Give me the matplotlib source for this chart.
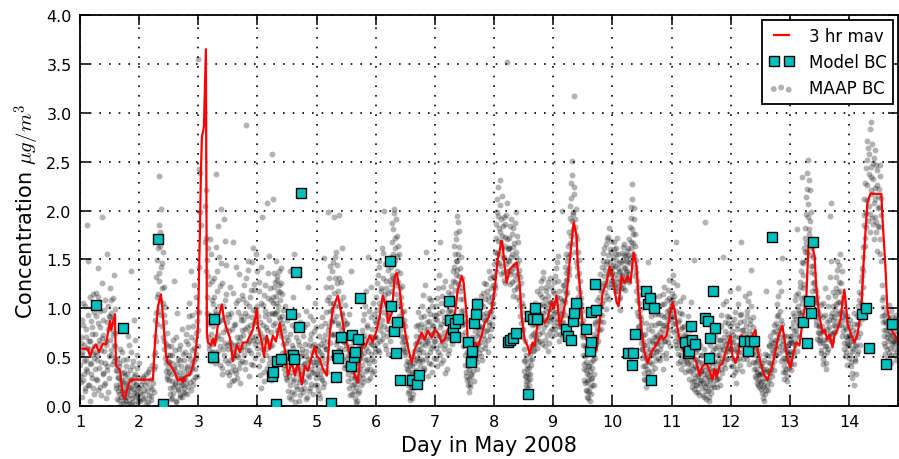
import numpy as np
import matplotlib.pyplot as plt

nan = float("nan")

# 3 hr running mean of the MAAP record: (day in May, ug/m3)
mav_points = [
    (1.000, 0.59), (1.135, 0.58), (1.169, 0.51), (1.220, 0.59), (1.270, 0.63), (1.321, 0.55),
    (1.389, 0.64), (1.439, 0.63), (1.507, 0.87), (1.524, 0.78), (1.557, 0.85), (1.591, 0.94),
    (1.608, 0.41), (1.676, 0.37), (1.693, 0.27), (1.726, 0.10), (1.760, 0.08), (1.794, 0.17),
    (1.845, 0.26), (1.878, 0.27), (2.233, 0.27), (2.267, 0.65), (2.318, 1.02), (2.368, 1.14),
    (2.385, 1.05), (2.419, 0.78), (2.453, 0.51), (2.486, 0.44), (2.537, 0.41), (2.605, 0.34),
    (2.655, 0.26), (2.706, 0.28), (2.740, 0.24), (2.791, 0.31), (2.858, 0.32), (2.909, 0.41),
    (2.943, 0.51), (2.959, 0.58), (2.993, 0.78), (3.027, 1.78), (3.044, 2.39), (3.061, 2.76),
    (3.078, 2.80), (3.095, 2.86), (3.128, 3.65), (3.145, 0.75), (3.162, 0.65), (3.213, 0.62),
    (3.247, 0.69), (3.280, 0.62), (3.314, 0.75), (3.348, 0.92), (3.399, 1.04), (3.432, 0.89),
    (3.483, 0.78), (3.534, 0.70), (3.584, 0.46), (3.652, 0.62), (3.703, 0.55), (3.753, 0.65),
    (3.821, 0.65), (3.872, 0.72), (3.922, 0.78), (3.990, 0.99), (4.007, 0.82), (4.074, 0.65),
    (4.108, 0.51), (4.159, 0.72), (4.209, 0.58), (4.260, 0.72), (4.311, 0.66), (4.378, 0.85),
    (4.412, 0.72), (4.463, 0.58), (4.514, 0.31), (4.581, 0.45), (4.632, 0.31), (4.682, 0.45),
    (4.750, 0.22), (4.801, 0.41), (4.851, 0.36), (4.919, 0.51), (4.970, 0.61), (5.003, 0.51),
    (5.054, 0.48), (5.105, 0.38), (5.172, 0.31), (5.223, 0.75), (5.274, 0.99), (5.358, 1.13),
    (5.426, 0.92), (5.476, 0.72), (5.527, 0.61), (5.595, 0.45), (5.645, 0.31), (5.696, 0.24),
    (5.730, 0.45), (5.780, 0.65), (5.831, 0.62), (5.899, 0.72), (5.949, 0.65), (6.017, 0.78),
    (6.068, 0.92), (6.118, 1.13), (6.186, 0.99), (6.203, 0.85), (6.270, 0.95), (6.321, 1.33),
    (6.355, 1.36), (6.405, 1.19), (6.439, 0.99), (6.490, 0.78), (6.541, 0.61), (6.608, 0.44),
    (6.659, 0.58), (6.709, 0.65), (6.777, 0.75), (6.828, 0.68), (6.878, 0.77), (6.946, 0.70),
    (6.997, 0.78), (7.047, 0.75), (7.115, 0.65), (7.166, 0.68), (7.216, 0.78), (7.284, 0.85),
    (7.334, 0.92), (7.385, 1.19), (7.453, 1.33), (7.486, 1.26), (7.537, 0.92), (7.554, 0.65),
    (7.622, 0.58), (7.672, 0.65), (7.723, 0.61), (7.791, 0.72), (7.841, 0.85), (7.892, 0.89),
    (7.959, 0.99), (8.010, 1.19), (8.061, 1.50), (8.128, 1.69), (8.145, 1.64), (8.179, 1.43),
    (8.213, 1.26), (8.264, 1.40), (8.314, 1.43), (8.382, 1.47), (8.432, 1.25), (8.466, 0.92),
    (8.517, 0.68), (8.568, 0.61), (8.601, 0.53), (8.652, 0.65), (8.686, 0.62), (8.736, 0.85),
    (8.804, 0.92), (8.855, 0.85), (8.905, 0.90), (8.973, 1.06), (9.007, 1.00), (9.057, 1.13),
    (9.108, 0.82), (9.159, 0.92), (9.226, 1.13), (9.277, 1.47), (9.311, 1.67), (9.345, 1.88),
    (9.395, 1.74), (9.412, 1.47), (9.463, 1.13), (9.497, 0.78), (9.564, 0.68), (9.615, 0.58),
    (9.666, 0.51), (9.733, 0.58), (9.784, 0.85), (9.834, 1.16), (9.902, 1.26), (9.953, 1.43),
    (10.003, 1.33), (10.071, 1.06), (10.105, 1.02), (10.155, 1.33), (10.206, 1.26), (10.257, 1.33),
    (10.307, 1.26), (10.358, 1.57), (10.409, 1.43), (10.443, 1.09), (10.493, 0.78), (10.544, 0.55),
    (10.595, 0.44), (10.662, 0.55), (10.713, 0.60), (10.764, 0.65), (10.831, 0.72), (10.865, 0.68),
    (10.916, 0.72), (10.966, 0.92), (11.017, 1.06), (11.051, 0.99), (11.084, 0.85), (11.135, 0.68),
    (11.186, 0.58), (11.253, 0.68), (11.304, 0.65), (11.355, 0.55), (11.422, 0.44), (11.473, 0.31),
    (11.524, 0.41), (11.591, 0.44), (11.642, 0.36), (11.693, 0.27), (11.726, 0.38), (11.760, 0.29),
    (11.811, 0.41), (11.861, 0.44), (11.929, 0.58), (11.997, 0.72), (12.030, 0.51), (12.081, 0.44),
    (12.115, 0.51), (12.182, 0.73), (12.216, 0.70), (12.267, 0.58), (12.318, 0.65), (12.368, 0.72),
    (12.419, 0.78), (12.453, 0.58), (12.520, 0.41), (12.571, 0.31), (12.622, 0.27), (12.689, 0.38),
    (12.740, 0.51), (12.807, 0.72), (12.875, 0.82), (12.909, 0.68), (12.959, 0.48), (13.010, 0.39),
    (13.061, 0.55), (13.111, 0.65), (13.162, 0.62), (13.213, 0.85), (13.280, 1.13), (13.314, 1.64),
    (13.365, 1.67), (13.416, 1.54), (13.449, 1.19), (13.500, 0.92), (13.551, 0.75), (13.584, 0.78),
    (13.635, 0.68), (13.669, 0.73), (13.720, 0.60), (13.753, 0.72), (13.804, 0.78), (13.855, 0.88),
    (13.889, 1.06), (13.922, 1.19), (13.956, 0.99), (13.973, 0.85), (14.041, 0.72), (14.091, 0.65),
    (14.142, 0.73), (14.209, 0.99), (14.243, 1.43), (14.277, 1.77), (14.311, 2.08), (14.361, 2.17),
    (14.547, 2.17), (14.564, 1.94), (14.615, 1.43), (14.649, 0.99), (14.716, 0.78), (14.767, 0.73),
    (14.834, 0.65),
]

# model BC: (day in May, ug/m3)
model_points = [
    (1.275, 1.03), (1.726, 0.80), (2.318, 1.705), (2.41, 0.02), (3.247, 0.50), (3.264, 0.89),
    (4.238, 0.31), (4.265, 0.35), (4.305, 0.02), (4.333, 0.46), (4.395, 0.485), (4.575, 0.945),
    (4.60, 0.52), (4.62, 0.485), (4.65, 1.375), (4.70, 0.81), (4.733, 2.18), (5.24, 0.035),
    (5.32, 0.30), (5.347, 0.52), (5.363, 0.49), (5.404, 0.71), (5.573, 0.41), (5.606, 0.73),
    (5.633, 0.50), (5.657, 0.555), (5.70, 0.69), (5.73, 1.10), (6.236, 1.48), (6.265, 1.02),
    (6.30, 0.77), (6.338, 0.545), (6.36, 0.86), (6.405, 0.265), (6.62, 0.265), (6.705, 0.23),
    (6.726, 0.32), (7.233, 1.075), (7.25, 0.88), (7.306, 0.785), (7.334, 0.85), (7.334, 0.705),
    (7.39, 0.89), (7.56, 0.65), (7.605, 0.455), (7.633, 0.565), (7.655, 0.85), (7.70, 0.94),
    (7.718, 1.04), (8.235, 0.65), (8.264, 0.68), (8.32, 0.70), (8.377, 0.75), (8.573, 0.12),
    (8.60, 0.92), (8.66, 0.89), (8.70, 1.0), (8.73, 0.895), (9.22, 0.785), (9.25, 0.72),
    (9.305, 0.68), (9.33, 0.87), (9.35, 0.955), (9.39, 1.05), (9.56, 0.785), (9.615, 0.565),
    (9.63, 0.655), (9.643, 0.96), (9.70, 1.25), (9.728, 0.98), (10.26, 0.545), (10.33, 0.42),
    (10.35, 0.54), (10.39, 0.74), (10.56, 1.18), (10.61, 1.04), (10.63, 1.10), (10.656, 0.27),
    (10.70, 1.0), (11.22, 0.655), (11.275, 0.545), (11.30, 0.565), (11.33, 0.82), (11.35, 0.68),
    (11.40, 0.63), (11.56, 0.90), (11.61, 0.87), (11.625, 0.495), (11.65, 0.70), (11.70, 1.18),
    (11.73, 0.80), (12.233, 0.665), (12.29, 0.565), (12.318, 0.665), (12.39, 0.66), (12.70, 1.73),
    (13.22, 0.86), (13.29, 0.64), (13.32, 1.075), (13.35, 0.95), (13.387, 1.68), (14.22, 0.94),
    (14.29, 1.0), (14.345, 0.59), (14.63, 0.43), (14.73, 0.84),
]

# MAAP BC (ug/m3), one value every 15 minutes from 1 May 00:00 ...
maap_start = 1.0
maap_step = 1.0 / 96
maap_bc = [
    .42,.71,.25,.88,.55,1.05,.33,.62,.18,.79,.47,1.85,.36,.93,.58,.21,.67,1.12,.44,.29,.81,.53,.12,.96,
    .74,.38,1.16,.52,.27,.85,1.41,.63,.19,.97,.45,.70,1.93,.33,.88,.56,1.08,.24,.66,1.55,.41,.79,.14,.92,
    .68,1.21,.95,.52,.84,1.10,.73,.46,.99,.61,.37,.22,.48,.15,.30,.06,.41,.19,.09,.27,.55,.03,.17,.35,
    .12,.31,.05,.22,.48,.09,.16,.62,.27,.03,1.38,.19,.41,.08,.25,.88,.14,.33,.02,.21,.52,.11,.29,.07,
    .18,nan,.05,nan,.26,.12,nan,.31,nan,.08,.22,nan,.15,nan,.35,.04,nan,.19,nan,.28,.10,nan,.24,nan,
    .38,.72,.55,.95,1.32,.84,1.62,1.15,2.35,1.28,1.78,.93,2.02,1.46,1.05,.71,1.22,.58,.86,.44,.63,.31,.52,.39,
    .27,.45,.12,.61,.33,.08,.52,.19,1.28,.38,.24,.71,.05,.43,.29,.16,.58,.35,.09,.47,.22,.79,.31,.14,
    .36,.18,.55,.29,.74,.41,.12,.63,.33,.92,.25,.48,1.38,.39,.57,.21,.82,.46,.68,.30,1.12,.53,.87,.61,
    3.55,1.42,2.38,4.6,1.85,5.2,4.3,4.9,6.1,4.8,5.5,2.05,1.72,1.38,.95,1.62,.71,1.25,.58,.88,1.55,.46,1.08,.67,
    .82,.55,1.31,.68,2.37,.94,.47,1.18,.73,1.52,1.02,.61,2.02,.88,.39,1.26,.76,1.91,.52,1.08,.64,1.44,.35,.86,
    .58,.32,.91,.47,1.22,.63,.26,.79,.41,1.68,.55,.84,.37,1.05,.62,.29,.96,.50,1.35,.71,.44,.88,.60,1.14,
    .73,1.09,.52,.95,.38,1.31,2.87,.81,.64,1.48,.57,1.02,.76,.43,1.19,.91,1.62,.68,.85,1.25,.49,.97,.72,1.38,
    .66,.92,.41,1.27,.75,.18,1.05,.58,1.93,.83,.35,1.14,.69,.97,.52,2.08,.78,1.36,.44,.88,.61,1.21,.27,.95,
    2.58,1.12,2.12,.94,1.27,.85,1.05,1.33,.97,1.18,.76,1.24,.89,1.08,1.41,.92,1.15,.63,.81,.38,.55,1.02,.29,.71,
    .42,.15,.68,.31,1.38,.52,.07,.44,.83,.26,.59,.12,1.56,.37,.71,.20,.48,.93,.33,.05,.62,.28,.17,.54,
    .36,.58,.14,.81,.43,.25,.97,.51,.09,.39,1.22,.62,.30,.46,.18,.74,.55,.35,.88,.42,.63,.21,1.05,.48,
    .45,.22,.61,.38,.12,.55,.33,.82,.27,.49,.68,.19,1.51,.44,.73,.58,.96,.35,1.98,.78,1.12,.64,1.05,.87,
    1.22,.86,1.47,1.05,1.93,.74,1.31,.92,1.58,.67,1.18,.83,1.02,1.95,.59,1.27,.78,.95,.48,1.12,.65,.88,.42,.71,
    .62,.41,.85,.33,.57,.18,.72,.29,1.38,.45,.12,.36,.23,.51,.08,.31,.19,.44,.05,.27,.62,.15,.38,.49,
    .52,.33,.78,.61,.25,.94,.47,.69,1.18,.38,.83,.56,1.52,.44,.72,.29,.91,.63,.48,1.05,.71,.36,.87,.59,
    .85,1.12,.64,1.34,.91,.55,1.48,.78,1.21,1.02,.69,1.57,.96,1.99,.82,1.15,.58,1.28,.93,.72,1.39,.87,1.06,.66,
    1.25,1.52,1.68,1.34,1.81,1.46,1.97,1.29,1.62,1.15,1.74,1.38,1.08,1.55,.92,1.21,.78,1.12,.65,.96,.71,.88,.57,.82,
    .55,.71,.38,.46,.22,.31,.15,.42,.09,.27,.35,.18,.51,.12,.44,.24,.63,.37,.82,.49,.58,.96,.67,.41,
    .72,.48,.91,.63,1.14,.55,.81,.37,.69,1.58,.76,.52,.98,.64,.44,.87,.71,1.08,.59,.83,.35,.75,.93,.66,
    .78,1.02,.59,.88,.41,1.21,.73,.95,.52,1.68,.84,.66,1.13,.47,.91,.76,1.28,.62,.85,.38,1.05,.71,.97,.57,
    .89,.72,1.15,.96,.63,1.28,1.04,1.42,1.19,1.56,1.34,1.77,1.48,1.88,1.25,1.63,1.09,1.41,.86,1.22,.73,.98,.61,.84,
    .65,.42,.87,.31,.55,.22,.46,.28,.37,.19,.52,.33,.71,.44,.93,.58,.26,.77,.49,1.08,.62,.38,.81,.54,
    .74,.92,.58,1.13,.81,.47,1.02,.69,1.26,.88,.63,.95,.78,1.18,.55,1.07,.86,.72,1.31,.97,1.12,.84,1.24,1.05,
    1.32,1.58,1.21,1.86,1.47,2.12,1.69,1.94,1.55,2.31,1.78,1.43,1.91,1.62,1.37,1.84,1.52,1.26,1.73,1.45,1.95,3.52,1.61,1.38,
    1.48,1.72,1.25,1.91,1.38,1.56,1.13,1.82,1.44,1.67,1.29,1.98,1.52,1.21,1.74,1.35,1.08,1.49,.92,1.26,.78,1.05,.71,.88,
    .58,.36,.47,.22,.31,.18,.42,.27,.15,.39,.53,.33,.72,.48,.91,.62,.84,.57,1.05,.76,.69,1.18,.88,.65,
    .92,.74,1.15,.86,1.28,.63,1.04,.95,1.37,.81,1.09,.68,.97,1.22,.88,.56,1.13,.99,.77,1.31,.91,1.06,.72,1.18,
    1.05,.83,1.27,.96,1.41,.74,1.12,1.53,.89,1.18,.67,1.02,.81,.94,.72,1.99,.86,1.08,1.24,.93,1.36,1.15,1.48,1.29,
    1.52,1.78,1.34,2.05,1.67,2.28,1.89,2.51,1.96,2.17,3.17,1.83,1.58,2.02,1.42,1.71,1.21,1.49,1.05,1.28,.92,1.11,.84,.97,
    .71,.52,.38,.61,.24,.45,.15,.33,.08,.27,.41,.19,.36,.12,.53,.29,.47,.68,.22,.84,.57,.95,.63,1.08,
    .88,.67,1.12,.94,1.35,.79,1.21,1.04,1.48,.86,1.33,1.62,1.17,1.45,.99,1.71,1.28,1.54,1.09,1.82,1.39,1.25,1.58,1.41,
    1.36,1.52,1.24,1.61,1.43,1.18,1.55,1.31,1.72,1.27,1.09,1.46,.98,1.38,1.21,1.57,1.34,1.49,1.26,1.66,1.41,1.19,1.53,1.32,
    1.29,1.47,1.62,1.35,1.83,1.51,2.04,1.68,2.27,1.76,1.55,1.91,1.42,1.64,1.18,1.37,.96,1.22,.81,1.05,.73,.92,.64,.85,
    .58,.41,.73,.34,.62,.27,.49,.85,.38,.56,1.47,.31,.68,.45,.92,.52,.77,.36,.64,1.12,.58,.83,.47,.71,
    .73,.56,.94,.68,1.13,.47,.85,.62,1.04,.79,.38,.91,1.22,.66,.83,.54,.97,1.08,.72,.87,1.29,.95,.61,1.02,
    .98,1.16,.84,1.27,.92,.67,1.05,.78,1.68,.59,.86,.44,.73,.95,.52,.67,.38,.81,.61,1.12,.49,.72,.35,.64,
    .62,.45,.83,.37,.71,.28,.55,1.06,.42,.19,.64,.33,1.49,.26,.48,.14,.39,.58,.22,.31,.11,.45,.27,.52,
    .36,.18,.52,.24,.09,.41,.29,1.88,.15,.33,.46,.21,.05,.38,.62,.27,.13,1.21,.44,.31,.57,.19,.72,.35,
    .43,.28,.61,.37,.79,.52,.21,.68,.45,.93,.34,1.52,.58,.71,.39,.86,.63,1.07,.48,.74,.56,.91,.67,.82,
    .58,.41,.77,.32,.65,.89,.47,.71,.24,.56,.83,.38,1.04,.62,.49,.93,1.68,.55,.78,.36,.69,.87,.52,.74,
    .63,.82,.48,.97,.71,.55,1.16,.66,.88,1.39,.74,.59,.91,.45,.67,.31,.52,.38,.24,.46,.33,.57,.19,.42,
    .32,.17,.44,.26,.08,.38,.21,.53,.12,.35,1.18,.28,.45,.16,.62,.34,.51,.23,.67,.42,.76,.55,.37,.61,
    .68,.85,.52,1.04,.74,.93,.61,1.27,.79,.46,.88,1.51,.57,.35,.72,.28,.49,.61,.38,.55,.26,.47,.64,.53,
    .56,.72,.43,.81,.64,.95,.51,.77,1.08,.62,.89,1.81,.73,.98,1.16,.84,1.27,.93,1.38,1.05,2.34,1.21,1.46,1.12,
    1.58,1.82,2.14,1.67,2.38,1.93,2.52,1.76,2.21,1.54,1.98,1.43,1.71,1.26,1.52,1.09,1.35,.94,1.18,.83,1.05,.76,.97,.68,
    .82,.64,1.03,.57,.76,.43,.91,.68,.52,1.21,.61,.38,.79,.55,1.12,.72,.88,1.94,.66,2.08,.95,.74,1.17,.83,
    .91,1.13,.76,1.32,.94,1.48,1.06,1.27,.83,1.55,1.18,.97,1.38,.72,1.05,.88,.64,.93,.51,.79,.68,.42,.85,.61,
    .73,.52,.88,.41,.67,.29,.78,.58,.95,.46,.71,.33,.62,.84,1.02,.56,.91,1.17,.75,1.28,1.05,1.41,1.22,1.63,
    1.85,2.12,1.64,2.43,1.97,2.71,2.26,3.38,2.05,2.58,1.78,2.34,2.91,2.17,1.92,2.49,2.08,1.71,2.62,2.23,1.88,2.41,1.59,2.15,
    2.22,1.83,2.47,1.56,1.95,1.24,.92,1.12,.78,.64,.87,.53,.96,.71,.48,.82,.67,1.03,.59,.76,.44,.91,.63,.81,
    .72,.58,.89,.66,.47,.93,.74,.61,
]

# ... and the samples taken 7.5 minutes after each of those
maap_bc_half = [
    .31,.64,.09,.52,.83,.27,.46,1.02,.15,.71,.38,.59,.22,1.48,.66,.05,.43,.87,.33,.74,.18,1.15,.49,.61,
    .55,.92,.28,.47,1.12,.16,.68,.39,.81,.11,.57,1.26,.34,.73,.21,.98,.44,.62,.08,.86,.37,1.02,.51,.29,
    .91,.57,1.08,.78,.43,.89,1.34,.62,.75,.49,.18,.36,.07,.29,.44,.12,.23,.58,.02,.34,.15,.47,.26,.09,
    .24,.06,.41,.14,.33,.72,.02,.19,.37,.11,.28,.55,.04,.46,.17,.31,.09,.68,.23,.13,.39,.05,.18,.44,
    nan,.13,nan,.21,nan,.07,.29,nan,.16,nan,.33,.02,nan,.25,nan,.11,.38,nan,.06,nan,.17,.42,nan,.14,
    .52,.41,.88,.67,1.12,1.49,.97,1.85,1.36,1.64,1.07,1.42,1.21,.82,1.58,.93,.67,.49,1.01,.36,.75,.28,.61,.46,
    .35,.18,.52,.07,.44,.26,.68,.13,.39,.57,.21,.04,.33,.95,.17,.48,.25,.11,.62,.29,.41,.09,.53,.22,
    .28,.47,.13,.66,.24,.39,.81,.19,.52,1.05,.35,.71,.16,.43,.93,.27,.59,1.24,.38,.75,.49,.96,.31,.78,
    2.42,.96,1.98,5.1,4.2,4.4,5.8,4.5,4.7,5.3,6.3,1.68,2.21,1.12,1.49,.84,1.33,.62,1.71,.93,.74,1.28,.55,1.04,
    .63,1.12,.44,.97,1.63,.71,1.38,.56,1.84,.87,.42,1.23,.69,1.46,.33,1.02,.58,.91,1.69,.47,.79,1.15,.62,.94,
    .44,.77,.21,.65,.95,.36,.58,1.16,.49,.27,.83,.62,1.42,.34,.71,.52,1.08,.39,.66,.24,.92,.57,.78,.46,
    .88,.61,1.24,.45,.79,1.05,.57,.92,1.39,.66,.31,1.12,.83,.54,1.47,.71,.98,.42,1.19,.63,.87,1.56,.59,1.02,
    .79,.53,1.18,.32,.86,.64,1.42,.47,.71,1.03,.26,.92,1.24,.58,.81,.39,1.11,.66,.94,1.53,.49,.76,1.08,.62,
    1.05,.83,1.36,1.22,.95,1.48,1.13,.78,1.29,1.02,1.38,.91,1.17,.72,1.26,.85,.54,.98,.42,.77,.33,.64,.48,.88,
    .27,.56,.09,.49,.74,.21,.35,.62,.14,1.12,.45,.28,.81,.04,.53,.39,.17,.66,.47,.25,.86,.11,.41,.33,
    .51,.27,.72,.18,.63,.44,.07,.56,.84,.32,.48,.15,.69,.92,.38,.23,.61,.45,.12,.77,.34,.58,.81,.29,
    .33,.57,.16,.72,.44,.08,.63,.29,.52,.91,.37,.61,.24,.85,.58,1.22,.67,1.08,.49,1.31,.82,.97,1.43,.74,
    .97,1.38,.73,1.16,.88,1.52,1.02,.63,1.26,1.44,.85,.57,1.31,.69,1.07,.52,.93,1.62,.67,.81,.39,1.03,.58,.84,
    .49,.73,.26,.52,.94,.38,.11,.45,.61,.22,.35,.68,.15,.42,.29,.03,.52,.26,.37,.13,.48,.31,.56,.21,
    .61,.42,.88,.29,.73,.54,1.02,.36,.59,.81,.48,.27,.97,.65,.38,1.22,.53,.79,.34,.62,.94,.46,.71,.55,
    .71,.98,1.26,.57,1.05,1.42,.83,.66,1.18,1.62,.88,1.31,.74,1.09,1.45,.62,1.21,.79,1.04,.53,1.16,.95,1.29,.77,
    1.42,1.18,1.87,1.56,1.31,2.02,1.49,1.72,1.24,1.91,1.53,1.27,1.64,1.02,1.36,.88,1.04,.72,1.23,.59,.84,.66,.97,.52,
    .42,.63,.24,.37,.13,.28,.45,.06,.33,.19,.41,.08,.29,.56,.21,.35,.47,.72,.31,.65,.83,.46,.54,.78,
    .58,.84,.46,1.02,.71,.39,.92,.62,1.24,.48,.86,.67,.31,.79,1.11,.55,.94,.43,.74,1.02,.61,.82,.49,.89,
    .66,.93,.48,1.11,.72,.55,1.34,.81,.62,1.05,.44,.97,.71,1.22,.58,.87,.34,1.03,.69,.92,.53,1.17,.76,.85,
    .98,.79,1.23,.68,1.11,1.38,.91,1.64,1.27,1.48,1.71,1.39,1.94,1.56,1.33,1.79,1.18,1.52,.97,1.31,.83,1.09,.68,.93,
    .52,.76,.35,.63,.27,.41,.14,.52,.23,.45,.31,.62,.47,.85,.36,.67,.49,.94,.58,.72,.45,.98,.63,.79,
    .82,.65,1.04,.51,.94,.73,1.16,.88,.59,1.09,.77,1.25,.92,.68,1.13,.83,1.38,.96,.79,1.21,1.04,.91,1.33,1.15,
    1.45,1.24,1.72,1.38,1.98,1.57,2.24,1.82,1.46,2.06,1.68,1.35,2.15,1.74,1.51,1.93,1.29,1.64,1.86,1.38,1.71,2.08,1.49,1.62,
    1.62,1.35,1.84,1.52,1.27,1.76,1.41,1.63,1.19,1.87,1.34,1.58,1.12,1.45,1.68,1.23,1.39,1.02,1.32,.85,1.14,.96,.79,1.02,
    .46,.67,.31,.52,.26,.38,.12,.33,.21,.47,.28,.61,.42,.83,.56,.74,.95,.63,.88,.71,1.02,.59,.81,.97,
    1.03,.85,.67,1.21,.93,1.12,.76,1.31,.89,1.02,.61,1.18,.84,1.04,.73,1.27,.92,.64,1.06,.87,1.22,.79,.98,.89,
    .94,1.16,.79,1.33,1.05,.86,1.47,.97,1.28,.82,1.11,.74,.92,1.07,.85,1.24,.97,1.19,1.42,1.06,1.29,1.55,1.17,1.38,
    1.64,1.41,1.92,1.55,2.13,1.74,2.36,1.98,1.81,2.24,1.66,1.91,1.47,1.75,1.33,1.58,1.12,1.36,.96,1.17,.85,1.04,.73,.88,
    .62,.43,.27,.51,.16,.37,.09,.25,.41,.14,.32,.05,.28,.45,.21,.39,.58,.33,.74,.49,.86,.71,.97,.79,
    .96,.78,1.25,1.03,.87,1.18,1.42,.93,1.26,1.57,1.08,1.39,1.24,1.66,1.13,1.48,1.35,1.73,1.22,1.61,1.47,1.34,1.69,1.29,
    1.44,1.27,1.68,1.35,1.22,1.49,1.62,1.18,1.41,1.56,1.23,1.37,1.12,1.28,1.47,1.33,1.63,1.21,1.42,1.54,1.29,1.48,1.37,1.59,
    1.38,1.54,1.27,1.71,1.46,1.92,1.62,2.12,1.81,1.67,2.03,1.53,1.76,1.33,1.49,1.08,1.28,.92,1.14,.82,.98,.71,.89,.58,
    .49,.66,.28,.53,.41,.74,.19,.45,.62,.35,.79,.51,.27,.58,.83,.43,.66,1.02,.52,.71,.39,.94,.63,.55,
    .64,.85,.49,1.02,.76,.58,.93,.71,.52,1.15,.83,.66,1.04,.75,.49,.92,.81,1.19,.65,.98,1.11,.78,1.06,.89,
    1.09,.91,1.34,.76,1.13,.85,.62,.97,1.24,.71,.53,.88,.65,1.07,.46,.79,.58,.94,.43,.69,.82,.56,.74,.47,
    .71,.54,.92,.43,.62,.36,.78,.47,.25,.59,.38,.83,.17,.41,.29,.55,.21,.47,.33,.14,.39,.24,.62,.36,
    .27,.44,.11,.33,.58,.19,.37,.07,.24,.49,.15,.31,.42,.09,.28,.53,.18,.36,.81,.23,.46,.38,.59,.27,
    .35,.52,.19,.46,.68,.29,.57,.82,.38,.61,.49,1.04,.43,.66,.54,.77,.48,.92,.59,.85,.63,.71,1.18,.58,
    .66,.49,.85,.41,.73,.58,.96,.35,.62,.79,.47,1.21,.55,.71,.86,.42,.67,.94,.61,.48,.78,.63,1.13,.57,
    .71,.55,.92,.62,1.07,.77,.43,.84,.69,1.02,.53,.81,.62,.38,.56,.44,.29,.61,.35,.21,.48,.27,.52,.33,
    .25,.41,.13,.34,.19,.47,.05,.29,.38,.16,.52,.22,.36,.61,.27,.44,.72,.38,.57,.31,.64,.46,.83,.52,
    .77,.59,.92,.68,1.13,.81,.54,.97,.71,1.18,.63,.84,.49,.67,.41,.58,.35,.72,.46,.31,.62,.54,.39,.68,
    .48,.65,.37,.72,.55,.86,.43,.92,.67,.78,1.14,.56,.83,1.02,.71,.95,1.22,.82,1.11,1.47,.96,1.34,1.62,1.25,
    1.72,1.49,1.96,2.22,1.58,2.07,1.81,2.31,1.65,1.89,1.37,1.62,1.18,1.43,1.27,.98,1.21,1.06,.87,1.12,.69,.91,.82,.75,
    .71,.93,.54,.82,.65,1.05,.48,.77,.61,.93,.44,.86,.69,1.02,.58,.81,1.32,.75,.92,1.48,.67,.88,1.02,.76,
    .99,.82,1.21,1.04,1.39,.87,1.17,.95,1.44,1.06,.83,1.26,.91,1.12,.77,.96,.58,.81,.72,.55,.92,.63,.71,.49,
    .62,.81,.45,.73,.34,.56,.67,.22,.84,.61,.48,.76,.53,.92,.71,.84,1.08,.62,.97,1.15,.89,1.33,1.52,1.38,
    1.95,1.72,2.28,1.83,2.52,2.11,1.89,2.64,2.37,1.96,2.83,2.45,2.21,2.68,1.86,2.32,2.54,1.93,2.12,2.47,1.78,2.26,2.03,1.84,
    2.04,2.35,1.71,2.13,1.48,1.08,.86,1.01,.72,.93,.61,.78,.85,.58,.91,.74,.54,.88,.69,.97,.52,.73,.86,.67,
    .81,.64,.52,.78,.69,.55,.83,.70,
]

plt.rcParams['mathtext.fontset'] = 'cm'

mav_day, mav_value = np.array(mav_points).T
model_day, model_value = np.array(model_points).T
maap_day = maap_start + maap_step * np.arange(len(maap_bc))
maap_day_half = maap_start + maap_step * (np.arange(len(maap_bc_half)) + 0.5)

fig = plt.figure(figsize=(8.99, 4.6), dpi=100)
ax = fig.add_axes([0.089, 0.1152, 0.910, 0.850])

dots = ax.scatter(np.concatenate([maap_day, maap_day_half]), maap_bc + maap_bc_half,
                  s=18, c='k', alpha=0.3, linewidths=0, zorder=1)
line, = ax.plot(mav_day, mav_value, color='red', lw=1.6, zorder=2)
squares, = ax.plot(model_day, model_value, 's', ls='none', color=(0, 0.75, 0.75),
                   ms=7, mec='k', mew=1, zorder=3)

ax.set_xlim(1, 14.83)
ax.set_ylim(0, 4)
ax.set_xticks(range(1, 15))
yt = np.arange(0, 4.01, 0.5)
ax.set_yticks(yt)
ax.set_yticklabels(['%.1f' % v for v in yt])

ax.grid(True, color='k', linestyle=(0, (1, 4.8)), linewidth=1.2)
ax.tick_params(direction='in', top=True, right=True, length=7, width=1.1,
               labelsize=11.5, pad=6)
for sp in ax.spines.values():
    sp.set_linewidth(1.3)

ax.set_xlabel('Day in May 2008', fontsize=15)
ax.set_ylabel(r'Concentration $\mu g/m^3$', fontsize=15, labelpad=3)

leg = ax.legend([line, squares, dots], ['3 hr mav', 'Model BC', 'MAAP BC'],
                loc='upper right', numpoints=2, scatterpoints=3, fancybox=False,
                framealpha=1, edgecolor='k', fontsize=12, borderaxespad=0.3,
                handlelength=1.5, handletextpad=0.9)
leg.get_frame().set_linewidth(1.3)

fig.savefig('out.png', dpi=100)
